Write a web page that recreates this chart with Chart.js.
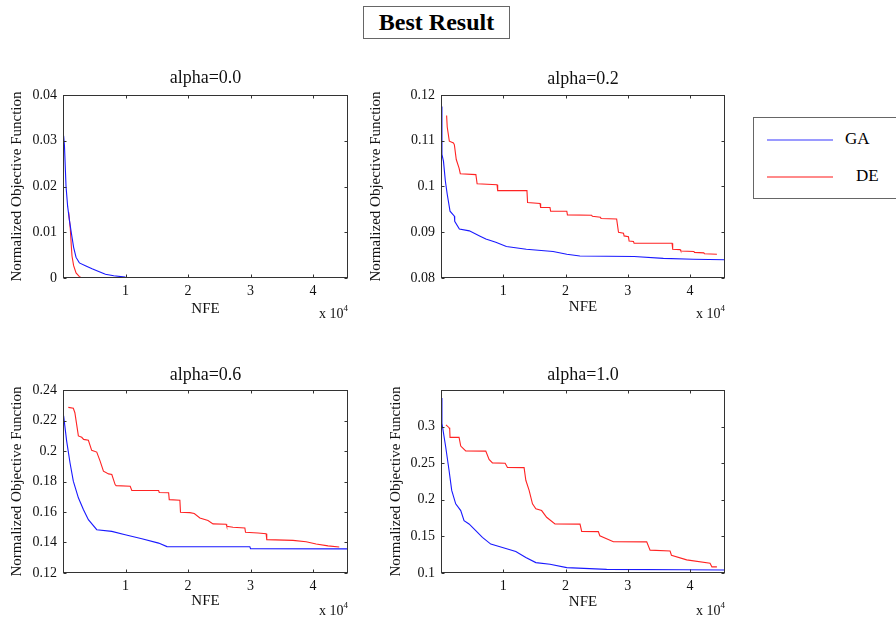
<!DOCTYPE html>
<html>
<head>
<meta charset="utf-8">
<script src="https://cdn.jsdelivr.net/npm/chart.js@4.4.1/dist/chart.umd.min.js"></script>
<style>
html,body{margin:0;padding:0;background:#fff;width:896px;height:617px;overflow:hidden;font-family:"Liberation Serif","Times New Roman",serif;}
canvas{position:absolute;}
#mainTitle{position:absolute;left:363px;top:6px;width:145px;height:31px;border:1.5px solid #666;font-weight:bold;font-size:24px;line-height:31px;text-align:center;color:#000;}
#legend{position:absolute;left:753px;top:117px;width:170px;height:80px;border:1px solid #666;}
.lg-line{position:absolute;height:1.5px;width:66px;}
.lg-text{position:absolute;font-size:17px;line-height:20px;color:#000;}
</style>
</head>
<body>
<div id="mainTitle">Best Result</div>
<div id="legend">
  <div class="lg-line" style="left:13px;top:21px;background:#9a9aff;"></div>
  <div class="lg-text" style="left:91px;top:11px;">GA</div>
  <div class="lg-line" style="left:13px;top:58px;background:#ff8a8a;"></div>
  <div class="lg-text" style="left:102px;top:48px;">DE</div>
</div>
<canvas id="c00" width="360" height="265" style="left:0px;top:60px;"></canvas>
<canvas id="c02" width="380" height="265" style="left:360px;top:60px;"></canvas>
<canvas id="c06" width="360" height="262" style="left:0px;top:355px;"></canvas>
<canvas id="c10" width="380" height="262" style="left:360px;top:355px;"></canvas>
<script>
// ---------- data (NFE, normalized objective) ----------
const subplotTitles = ['alpha=0.0', 'alpha=0.2', 'alpha=0.6', 'alpha=1.0'];
const seriesNames = ['GA', 'DE'];
const xTickValues = [10000, 20000, 30000, 40000];

// alpha = 0.0
const ga00_nfe = [100, 230, 330, 480, 740, 1010, 1330, 1700, 2090, 2620, 3580, 4650, 5710, 6790, 8120, 10000];
const ga00_val = [0.0311, 0.0290, 0.0255, 0.0201, 0.0157, 0.0128, 0.0099, 0.0067, 0.0045, 0.0033, 0.0027, 0.0020, 0.0014, 0.0008, 0.0005, 0.0002];
const de00_nfe = [900, 1170, 1330, 1440, 1700, 2090, 2620, 2900];
const de00_val = [0.0144, 0.0107, 0.0070, 0.0048, 0.0027, 0.0011, 0.0003, 0.0001];
const yTicks00 = [0, 0.01, 0.02, 0.03, 0.04];

// alpha = 0.2
const ga02_nfe = [100, 150, 400, 700, 1000, 1450, 2150, 2200, 2950, 4550, 6200, 7200, 8800, 10500, 13700, 18000, 20200, 22300, 31000, 35700, 40500, 45600];
const ga02_val = [0.1175, 0.1070, 0.1055, 0.1012, 0.0983, 0.0946, 0.0935, 0.0924, 0.0907, 0.0903, 0.0892, 0.0885, 0.0878, 0.0869, 0.0863, 0.0858, 0.0852, 0.0848, 0.0847, 0.0843, 0.0841, 0.0840];
const de02_nfe = [900, 1000, 1340, 2000, 2150, 2450, 2900, 3100, 5600, 5800, 9000, 9100, 13800, 13900, 15900, 16000, 17500, 17600, 20200, 20300, 24200, 24300, 25600, 25700, 28200, 28500, 29300, 29400, 30100, 30200, 30900, 31000, 37100, 37200, 38400, 38500, 40600, 40700, 42200, 42300, 44300];
const de02_val = [0.1155, 0.1130, 0.1099, 0.1095, 0.1091, 0.1059, 0.1040, 0.1028, 0.1026, 0.1006, 0.1004, 0.0991, 0.0991, 0.0965, 0.0963, 0.0954, 0.0954, 0.0946, 0.0946, 0.0938, 0.0937, 0.0935, 0.0933, 0.0930, 0.0929, 0.0900, 0.0898, 0.0892, 0.0890, 0.0881, 0.0880, 0.0876, 0.0876, 0.0863, 0.0862, 0.0859, 0.0858, 0.0856, 0.0855, 0.0853, 0.0852];
const yTicks02 = [0.08, 0.09, 0.1, 0.11, 0.12];

// alpha = 0.6
const ga06_nfe = [100, 580, 1120, 1650, 2460, 3260, 4060, 5400, 7810, 9950, 12620, 15300, 16630, 29900, 30000, 45600];
const ga06_val = [0.2230, 0.2066, 0.1923, 0.1802, 0.1693, 0.1616, 0.1550, 0.1484, 0.1473, 0.1451, 0.1424, 0.1396, 0.1373, 0.1372, 0.1360, 0.1358];
const de06_nfe = [850, 1650, 1900, 2460, 3000, 3300, 4060, 4590, 5400, 5940, 6470, 7300, 7810, 8340, 8500, 10750, 11010, 15300, 15400, 16900, 17000, 18700, 18800, 20300, 21000, 21900, 23200, 24000, 26100, 26200, 27200, 29100, 29200, 31200, 32500, 32600, 36800, 38900, 40500, 42400, 44200];
const de06_val = [0.2286, 0.2280, 0.2251, 0.2099, 0.2090, 0.2076, 0.2070, 0.2004, 0.1993, 0.1934, 0.1868, 0.1850, 0.1846, 0.1780, 0.1773, 0.1769, 0.1741, 0.1741, 0.1728, 0.1726, 0.1681, 0.1677, 0.1598, 0.1596, 0.1590, 0.1561, 0.1544, 0.1522, 0.1520, 0.1506, 0.1500, 0.1495, 0.1467, 0.1462, 0.1458, 0.1419, 0.1414, 0.1405, 0.1390, 0.1378, 0.1370];
const yTicks06 = [0.12, 0.14, 0.16, 0.18, 0.2, 0.22, 0.24];

// alpha = 1.0
const ga10_nfe = [100, 150, 750, 1290, 1720, 2360, 3170, 3700, 4500, 5580, 6650, 7990, 9870, 12010, 13620, 15230, 17500, 20190, 26600, 38900, 45600];
const ga10_val = [0.3390, 0.3046, 0.2725, 0.2404, 0.2128, 0.1945, 0.1853, 0.1716, 0.1670, 0.1578, 0.1486, 0.1395, 0.1349, 0.1293, 0.1211, 0.1142, 0.1120, 0.1073, 0.1050, 0.1045, 0.1041];
const de10_nfe = [800, 1300, 1400, 1450, 2900, 3170, 3970, 7190, 7720, 8260, 10300, 10670, 13340, 13620, 14150, 14690, 15230, 16160, 16960, 18300, 22320, 22590, 25260, 25500, 27680, 33030, 33570, 36780, 37000, 39450, 43200, 43500, 44300];
const de10_val = [0.3023, 0.2985, 0.2963, 0.2853, 0.2853, 0.2734, 0.2669, 0.2665, 0.2551, 0.2504, 0.2500, 0.2441, 0.2440, 0.2267, 0.2128, 0.1945, 0.1876, 0.1853, 0.1761, 0.1670, 0.1668, 0.1569, 0.1565, 0.1509, 0.1427, 0.1425, 0.1312, 0.1300, 0.1243, 0.1179, 0.1133, 0.1083, 0.1083];
const yTicks10 = [0.1, 0.15, 0.2, 0.25, 0.3];

// ---------- styling ----------
const FONT = '"Liberation Serif","Times New Roman",serif';
const BLUE = 'rgb(25,25,255)';
const RED = 'rgb(255,35,35)';
const TXT = '#111';
const TITLE_SIZE = 18;
const TITLE_LH = TITLE_SIZE * 1.2;

const zip = (xs, ys) => xs.map((x, i) => ({x: x, y: ys[i]}));

const framePlugin = {
  id: 'frame',
  afterDraw(chart) {
    const ctx = chart.ctx, a = chart.chartArea, xs = chart.scales.x, ys = chart.scales.y;
    const L = Math.round(a.left) + 0.5, R = Math.round(a.right) - 0.5;
    const T = Math.round(a.top) + 0.5, B = Math.round(a.bottom) - 0.5;
    ctx.save();
    ctx.strokeStyle = '#333';
    ctx.lineWidth = 1;
    ctx.strokeRect(L, T, R - L, B - T);
    ctx.beginPath();
    xs.ticks.forEach(t => {
      const p = Math.round(xs.getPixelForValue(t.value)) + 0.5;
      ctx.moveTo(p, B); ctx.lineTo(p, B - 3);
      ctx.moveTo(p, T); ctx.lineTo(p, T + 3);
    });
    ys.ticks.forEach(t => {
      const p = Math.round(ys.getPixelForValue(t.value)) + 0.5;
      ctx.moveTo(L, p); ctx.lineTo(L + 3, p);
      ctx.moveTo(R, p); ctx.lineTo(R - 3, p);
    });
    ctx.stroke();
    // exponent label
    const off = chart.options.expOffset;
    ctx.fillStyle = TXT;
    ctx.textAlign = 'right';
    ctx.textBaseline = 'alphabetic';
    ctx.font = '9px ' + FONT;
    const supW = ctx.measureText('4').width;
    ctx.fillText('4', a.right, a.bottom + off - 7);
    ctx.font = '14px ' + FONT;
    ctx.fillText('x 10', a.right - supW, a.bottom + off);
    ctx.restore();
  }
};

function build(id, o) {
  return new Chart(document.getElementById(id), {
    type: 'line',
    data: {
      datasets: [
        {label: seriesNames[0], data: zip(o.gaX, o.gaY), borderColor: BLUE, borderWidth: 1.1, pointRadius: 0, tension: 0, fill: false},
        {label: seriesNames[1], data: zip(o.deX, o.deY), borderColor: RED, borderWidth: 1.1, pointRadius: 0, tension: 0, fill: false}
      ]
    },
    options: {
      responsive: false,
      animation: false,
      expOffset: o.expOff,
      layout: {padding: {left: 0, top: 0, right: o.padRight, bottom: 0}},
      plugins: {
        legend: {display: false},
        tooltip: {enabled: false},
        title: {
          display: true, text: o.title, color: TXT, fullSize: false,
          font: {family: FONT, size: TITLE_SIZE, weight: 'normal', lineHeight: 1.2},
          padding: {top: o.tTop, bottom: 35 - TITLE_LH - o.tTop}
        }
      },
      scales: {
        x: {
          type: 'linear', min: 0, max: 45600,
          grid: {display: false, drawTicks: false},
          border: {display: false},
          afterBuildTicks: s => { s.ticks = xTickValues.map(v => ({value: v})); },
          afterFit: s => { s.height = o.xH; },
          ticks: {color: TXT, font: {family: FONT, size: 14}, padding: 5, maxRotation: 0, autoSkip: false,
                  callback: v => String(v / 10000)},
          title: {display: true, text: 'NFE', color: TXT, font: {family: FONT, size: 15, lineHeight: 1.2},
                  padding: {top: 0, bottom: o.nfePad}}
        },
        y: {
          type: 'linear', min: o.yMin, max: o.yMax,
          grid: {display: false, drawTicks: false},
          border: {display: false},
          afterBuildTicks: s => { s.ticks = o.yTicks.map(v => ({value: v})); },
          afterFit: s => { s.width = o.yW; },
          ticks: {color: TXT, font: {family: FONT, size: 14}, padding: 6, autoSkip: false,
                  callback: v => String(+(+v).toFixed(4))},
          title: {display: true, text: 'Normalized Objective Function', color: TXT,
                  font: {family: FONT, size: 15, lineHeight: 1.2}, padding: {top: o.yTitlePad, bottom: 0}}
        }
      }
    },
    plugins: [framePlugin]
  });
}

build('c00', {title: subplotTitles[0], gaX: ga00_nfe, gaY: ga00_val, deX: de00_nfe, deY: de00_val,
  yMin: 0, yMax: 0.04, yTicks: yTicks00, yW: 63, padRight: 12, xH: 47, tTop: 7.2, nfePad: 7, yTitlePad: 8.5, expOff: 40});
build('c02', {title: subplotTitles[1], gaX: ga02_nfe, gaY: ga02_val, deX: de02_nfe, deY: de02_val,
  yMin: 0.08, yMax: 0.12, yTicks: yTicks02, yW: 81, padRight: 15, xH: 47, tTop: 8.2, nfePad: 9, yTitlePad: 7, expOff: 40});
build('c06', {title: subplotTitles[2], gaX: ga06_nfe, gaY: ga06_val, deX: de06_nfe, deY: de06_val,
  yMin: 0.12, yMax: 0.24, yTicks: yTicks06, yW: 63, padRight: 12, xH: 44, tTop: 9.2, nfePad: 7, yTitlePad: 8.5, expOff: 42});
build('c10', {title: subplotTitles[3], gaX: ga10_nfe, gaY: ga10_val, deX: de10_nfe, deY: de10_val,
  yMin: 0.1, yMax: 0.35, yTicks: yTicks10, yW: 81, padRight: 15, xH: 44, tTop: 9.2, nfePad: 6, yTitlePad: 27, expOff: 42});
</script>
</body>
</html>
